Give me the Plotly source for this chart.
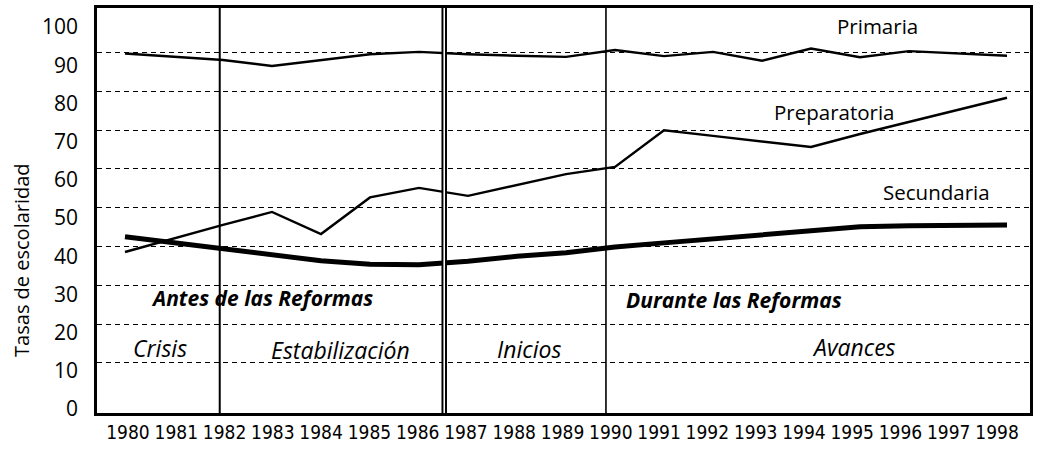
import plotly.graph_objects as go

years = list(range(1980, 1999))
primaria = [93.1, 92.3, 91.4, 89.8, 91.3, 92.9, 93.5, 92.9, 92.5, 92.2,
            94.0, 92.4, 93.5, 91.2, 94.4, 92.1, 93.7, 93.1, 92.5]
preparatoria = [41.1, 44.7, 48.2, 51.6, 45.8, 55.4, 57.9, 55.8, 58.6, 61.5,
                63.4, 73.0, 71.5, 70.0, 68.6, 72.0, 75.2, 78.3, 81.5]
secundaria = [45.1, 43.5, 42.0, 40.2, 38.8, 37.9, 37.8, 38.7, 40.0, 40.9,
              42.4, 43.5, 44.6, 45.7, 46.9, 47.7, 48.0, 48.1, 48.2]

y_ticks = list(range(0, 101, 10))
grid_vals = list(range(10, 91, 10))
period_bounds = [1981.9, 1986.55, 1989.9]

series_labels = [("Primaria", 1995.35, 100.3), ("Preparatoria", 1994.47, 77.7),
                 ("Secundaria", 1996.57, 56.8)]
stage_labels = [("Antes de las Reformas", 1982.8, 29.1), ("Durante las Reformas", 1992.43, 28.5)]
period_labels = [("Crisis", 1980.71, 16.0), ("Estabilización", 1984.39, 15.4),
                 ("Inicios", 1988.24, 15.7), ("Avances", 1994.88, 16.2)]

FONT = "Open Sans, Liberation Sans, sans-serif"
NARROW = "DejaVu Sans Condensed, Liberation Sans Narrow, sans-serif"

fig = go.Figure()
fig.add_trace(go.Scatter(x=years, y=primaria, mode="lines", line=dict(color="black", width=2.4),
                         xaxis="x", yaxis="y", showlegend=False))
fig.add_trace(go.Scatter(x=years, y=preparatoria, mode="lines", line=dict(color="black", width=2.4),
                         xaxis="x", yaxis="y", showlegend=False))
fig.add_trace(go.Scatter(x=years, y=secundaria, mode="lines", line=dict(color="black", width=5),
                         xaxis="x", yaxis="y", showlegend=False))
# invisible trace to activate the label axis and the grid axis
fig.add_trace(go.Scatter(x=[years[0]], y=[None], xaxis="x2", yaxis="y2", showlegend=False,
                         hoverinfo="skip"))

shapes = []
for i, b in enumerate(period_bounds):
    if i == 1:
        shapes.append(dict(type="line", xref="x2", yref="paper", x0=b, x1=b, y0=0, y1=1,
                           line=dict(color="black", width=5.5), layer="above"))
        shapes.append(dict(type="line", xref="x2", yref="paper", x0=b, x1=b, y0=0, y1=1,
                           line=dict(color="white", width=1.6), layer="above"))
    else:
        shapes.append(dict(type="line", xref="x2", yref="paper", x0=b, x1=b, y0=0, y1=1,
                           line=dict(color="black", width=2 if i == 0 else 1.6), layer="above"))

annotations = []
for t, x, y in series_labels:
    annotations.append(dict(text=t, x=x, y=y, xref="x", yref="y", showarrow=False,
                            font=dict(family=FONT, size=20.5, color="black")))
for t, x, y in stage_labels:
    annotations.append(dict(text="<b><i>" + t + "</i></b>", x=x, y=y, xref="x", yref="y",
                            showarrow=False, font=dict(family=FONT, size=21, color="black")))
for t, x, y in period_labels:
    annotations.append(dict(text="<i>" + t + "</i>", x=x, y=y, xref="x", yref="y",
                            showarrow=False, font=dict(family=FONT, size=23, color="black")))
annotations.append(dict(text="Tasas de escolaridad", textangle=-90, xref="paper", yref="paper",
                        x=-0.0804, y=0.378, xanchor="center", yanchor="middle", showarrow=False,
                        font=dict(family=FONT, size=20, color="black")))

fig.update_layout(
    width=1037, height=452,
    margin=dict(l=97, r=7, t=8, b=39, autoexpand=False),
    plot_bgcolor="white", paper_bgcolor="white",
    xaxis=dict(range=[1979.429, 1998.469], showticklabels=False, showgrid=False, zeroline=False,
               showline=True, linecolor="black", linewidth=2.5, mirror=True, ticks="",
               automargin=False),
    xaxis2=dict(overlaying="x", side="bottom", range=[1979.358, 1998.683], tickmode="array",
                tickvals=years, ticktext=[str(y) for y in years], showgrid=False, zeroline=False,
                showline=False, ticks="", ticklabelstandoff=6, tickangle=0, automargin=False,
                tickfont=dict(family=NARROW, size=19, color="black")),
    yaxis=dict(range=[-1.05, 105], tickmode="array", tickvals=y_ticks, showgrid=False,
               zeroline=False, showline=True, linecolor="black", linewidth=2.5, mirror=True,
               ticks="", ticklabelstandoff=12, automargin=False,
               tickfont=dict(family=FONT, size=21, color="black")),
    yaxis2=dict(overlaying="y", range=[-2.9, 101.5], tickmode="array", tickvals=grid_vals,
                showticklabels=False, showgrid=True, gridcolor="black", gridwidth=1.3,
                griddash="5px,4px", zeroline=False, showline=False, automargin=False),
    shapes=shapes,
    annotations=annotations,
)

fig.write_html("out.html", config={"displayModeBar": False},
               post_script="document.body.style.margin='0';")
